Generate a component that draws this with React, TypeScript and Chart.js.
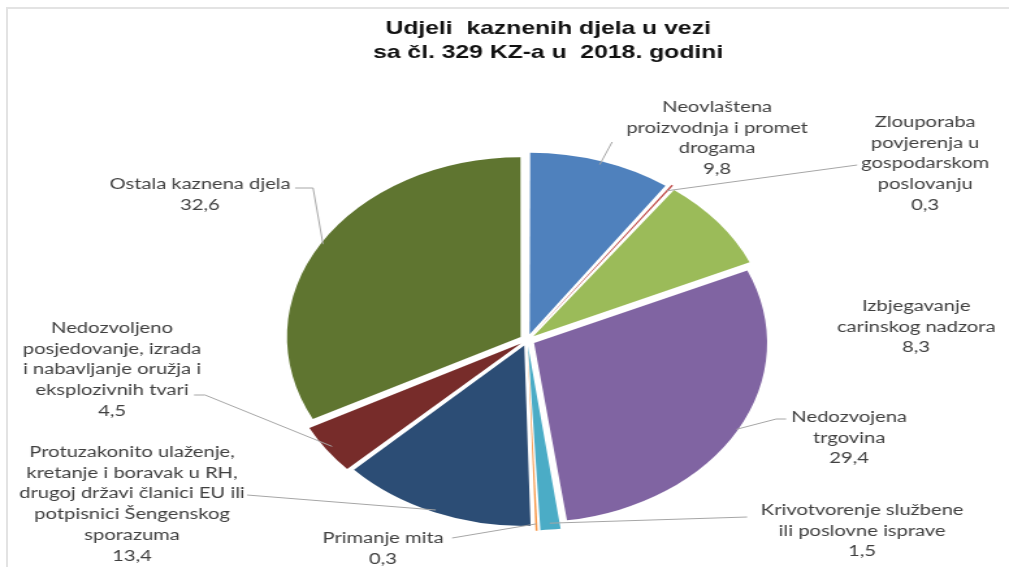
import React, { useEffect, useRef } from 'react';
import { Chart, registerables } from 'chart.js';

Chart.register(...registerables);

// ---------- data ----------
const titleLines = ['Udjeli  kaznenih djela u vezi', 'sa čl. 329 KZ-a u  2018. godini'];

const categories: string[][] = [
  ['Neovlaštena', 'proizvodnja i promet', 'drogama'],
  ['Zlouporaba', 'povjerenja u', 'gospodarskom', 'poslovanju'],
  ['Izbjegavanje', 'carinskog nadzora'],
  ['Nedozvojena', 'trgovina'],
  ['Krivotvorenje službene', 'ili poslovne isprave'],
  ['Primanje mita'],
  ['Protuzakonito ulaženje,', 'kretanje i boravak u RH,', 'drugoj državi članici EU ili', 'potpisnici Šengenskog', 'sporazuma'],
  ['Nedozvoljeno', 'posjedovanje, izrada', 'i nabavljanje oružja i', 'eksplozivnih tvari'],
  ['Ostala kaznena djela'],
];

const values = [9.8, 0.3, 8.3, 29.4, 1.5, 0.3, 13.4, 4.5, 32.6];

const colors = ['#4F81BD', '#C0504D', '#9BBB59', '#8064A2', '#4BACC6', '#F79646', '#2C4D75', '#772C2A', '#5F7530'];

// ---------- layout (page coordinates, x is divided by SX for the canvas) ----------
const W = 1009;
const H = 567;
const SX = 1.3;
const CW = Math.round(W / SX);
const OFFSET = 24; // chart.js translates arcs by offset/4
const LINE_H = 20.7;

type Lay = { cx: number; y: number; leader?: number[][] };
const labelLayout: Lay[] = [
  { cx: 717, y: 107, leader: [[612, 142]] },
  { cx: 925, y: 122, leader: [[857, 165]] },
  { cx: 916, y: 306 },
  { cx: 849, y: 417, leader: [[776, 419], [786, 419]] },
  { cx: 862, y: 510, leader: [[747, 517]] },
  { cx: 383, y: 538, leader: [[452, 538]] },
  { cx: 132, y: 452, leader: [[247, 495]] },
  { cx: 112, y: 328, leader: [[205, 395], [194, 395]] },
  { cx: 200, y: 184, leader: [[313, 188], [295, 188]] },
];

const fmt = (v: number) => v.toFixed(1).replace('.', ',');

const labelPlugin = {
  id: 'pieLabels',
  afterDraw(chart: any) {
    const ctx: CanvasRenderingContext2D = chart.ctx;
    ctx.save();
    ctx.textAlign = 'center';
    ctx.textBaseline = 'middle';
    // title
    ctx.fillStyle = '#111111';
    ctx.font = 'bold 19px "Liberation Sans", Arial, sans-serif';
    titleLines.forEach((t, i) => ctx.fillText(t, 548 / SX, 29 + i * 24));

    const meta = chart.getDatasetMeta(0);
    meta.data.forEach((arc: any, i: number) => {
      const { x, y, startAngle, endAngle, outerRadius } = arc;
      const mid = (startAngle + endAngle) / 2;
      const r = outerRadius + OFFSET / 4 - 1;
      const px = x + Math.cos(mid) * r;
      const py = y + Math.sin(mid) * r;
      const lay = labelLayout[i];
      if (lay.leader) {
        ctx.beginPath();
        ctx.moveTo(px, py);
        lay.leader.forEach(([lx, ly]) => ctx.lineTo(lx / SX, ly));
        ctx.strokeStyle = '#A6A6A6';
        ctx.lineWidth = 1;
        ctx.stroke();
      }
      const lines = [...categories[i], fmt(values[i])];
      ctx.fillStyle = '#404040';
      ctx.font = '15.5px Lato, "Open Sans", sans-serif';
      lines.forEach((t, k) => ctx.fillText(t, lay.cx / SX, lay.y + k * LINE_H));
    });
    ctx.restore();
  },
};

export default function App() {
  const ref = useRef<HTMLCanvasElement>(null);
  useEffect(() => {
    const chart = new Chart(ref.current as HTMLCanvasElement, {
      type: 'pie',
      data: {
        labels: categories,
        datasets: [
          {
            data: values,
            backgroundColor: colors,
            borderColor: '#ffffff',
            borderWidth: 0,
            offset: OFFSET,
          } as any,
        ],
      },
      options: {
        responsive: false,
        animation: false,
        radius: 179,
        events: [],
        layout: { padding: { left: 35, right: 0, top: 113, bottom: 0 } },
        plugins: {
          legend: { display: false },
          tooltip: { enabled: false },
          title: { display: false },
        },
      } as any,
      plugins: [labelPlugin],
    });
    return () => chart.destroy();
  }, []);

  return (
    <div style={{ position: 'absolute', left: 0, top: 0, width: W, height: H, background: '#ffffff', overflow: 'hidden' }}>
      <div style={{ position: 'absolute', left: 0, top: 0, width: CW, height: H, transform: `scaleX(${W / CW})`, transformOrigin: '0 0' }}>
        <canvas ref={ref} width={CW} height={H} />
      </div>
      <div
        style={{
          position: 'absolute',
          left: 6,
          top: 7,
          right: 0,
          bottom: 0,
          borderTop: '2px solid #E3E3E3',
          borderLeft: '2px solid #E3E3E3',
          pointerEvents: 'none',
        }}
      />
    </div>
  );
}
